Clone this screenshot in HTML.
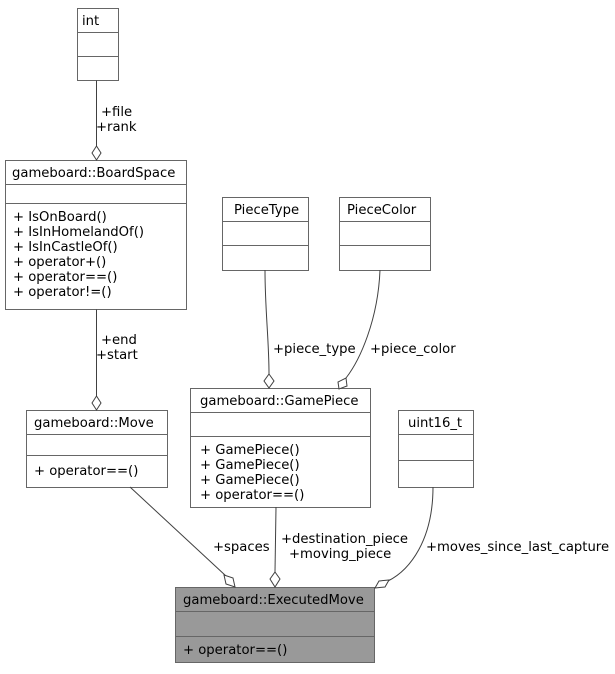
<!DOCTYPE html>
<html><head><meta charset="utf-8"><style>
html,body{margin:0;padding:0;background:#fff;}
svg text{font-family:"DejaVu Sans","Liberation Sans",sans-serif;font-size:13.2px;fill:#000;}
</style></head><body>
<svg width="615" height="669" viewBox="0 0 615 669" xmlns="http://www.w3.org/2000/svg">
<g fill="#fff" stroke="#666" stroke-width="1">
<rect x="77.5" y="8.5" width="41" height="72"/>
<line x1="77.5" y1="32.5" x2="118.5" y2="32.5"/><line x1="77.5" y1="56.5" x2="118.5" y2="56.5"/>
<rect x="5.5" y="160.5" width="181" height="149"/>
<line x1="5.5" y1="184.5" x2="186.5" y2="184.5"/><line x1="5.5" y1="203.5" x2="186.5" y2="203.5"/>
<rect x="222.5" y="197.5" width="86" height="73"/>
<line x1="222.5" y1="221.5" x2="308.5" y2="221.5"/><line x1="222.5" y1="245.5" x2="308.5" y2="245.5"/>
<rect x="339.5" y="197.5" width="91" height="73"/>
<line x1="339.5" y1="221.5" x2="430.5" y2="221.5"/><line x1="339.5" y1="245.5" x2="430.5" y2="245.5"/>
<rect x="26.5" y="410.5" width="141" height="77"/>
<line x1="26.5" y1="434.5" x2="167.5" y2="434.5"/><line x1="26.5" y1="455.5" x2="167.5" y2="455.5"/>
<rect x="190.5" y="388.5" width="180" height="119"/>
<line x1="190.5" y1="412.5" x2="370.5" y2="412.5"/><line x1="190.5" y1="436.5" x2="370.5" y2="436.5"/>
<rect x="398.5" y="410.5" width="75" height="77"/>
<line x1="398.5" y1="434.5" x2="473.5" y2="434.5"/><line x1="398.5" y1="460.5" x2="473.5" y2="460.5"/>
</g>
<g fill="#999" stroke="#666">
<rect x="175.5" y="587.5" width="199" height="75"/>
<line x1="175.5" y1="611.5" x2="374.5" y2="611.5"/><line x1="175.5" y1="636.5" x2="374.5" y2="636.5"/>
</g>
<g fill="none" stroke="#404040" stroke-width="1">
<path d="M96.5 80.5 V146"/>
<path d="M96.5 309.5 V396"/>
<path d="M265 270 C265 310 269 340 269 374"/>
<path d="M380 270 C378 320 360 360 346 378"/>
<path d="M130 487 L226 576"/>
<path d="M276 507 L275 572"/>
<path d="M433 487 C433 540 410 570 388 581"/>
</g>
<g fill="#fff" stroke="#404040">
<path d="M96.5 146 L101 153 L96.5 160 L92 153 Z"/>
<path d="M96.5 396 L101 403 L96.5 410 L92 403 Z"/>
<path d="M269 374 L274 381 L269 388 L264 381 Z"/>
<path d="M346 378 L347 386 L339 389 L338 382 Z"/>
<path d="M224 575 L233 578 L235 587 L226 584 Z"/>
<path d="M275 572 L280 579 L275 587 L270 579 Z"/>
<path d="M389 580 L385 587 L375 588 L379 581 Z"/>
</g>
<text x="82" y="25">int</text>
<text x="12" y="177">gameboard::BoardSpace</text>
<text x="13" y="221">+ IsOnBoard()</text>
<text x="13" y="236">+ IsInHomelandOf()</text>
<text x="13" y="251">+ IsInCastleOf()</text>
<text x="13" y="266">+ operator+()</text>
<text x="13" y="281">+ operator==()</text>
<text x="13" y="296">+ operator!=()</text>
<text x="234" y="214">PieceType</text>
<text x="347" y="214">PieceColor</text>
<text x="34" y="427">gameboard::Move</text>
<text x="34" y="475">+ operator==()</text>
<text x="200" y="405">gameboard::GamePiece</text>
<text x="200" y="454">+ GamePiece()</text>
<text x="200" y="469">+ GamePiece()</text>
<text x="200" y="484">+ GamePiece()</text>
<text x="200" y="499">+ operator==()</text>
<text x="408" y="427">uint16_t</text>
<text x="183" y="604">gameboard::ExecutedMove</text>
<text x="183" y="654">+ operator==()</text>
<text x="101" y="116">+file</text>
<text x="96" y="131">+rank</text>
<text x="101" y="344">+end</text>
<text x="96" y="359">+start</text>
<text x="273" y="353">+piece_type</text>
<text x="370" y="353">+piece_color</text>
<text x="213" y="551">+spaces</text>
<text x="281" y="543">+destination_piece</text>
<text x="289" y="558">+moving_piece</text>
<text x="426" y="551">+moves_since_last_capture</text>
</svg>
</body></html>
